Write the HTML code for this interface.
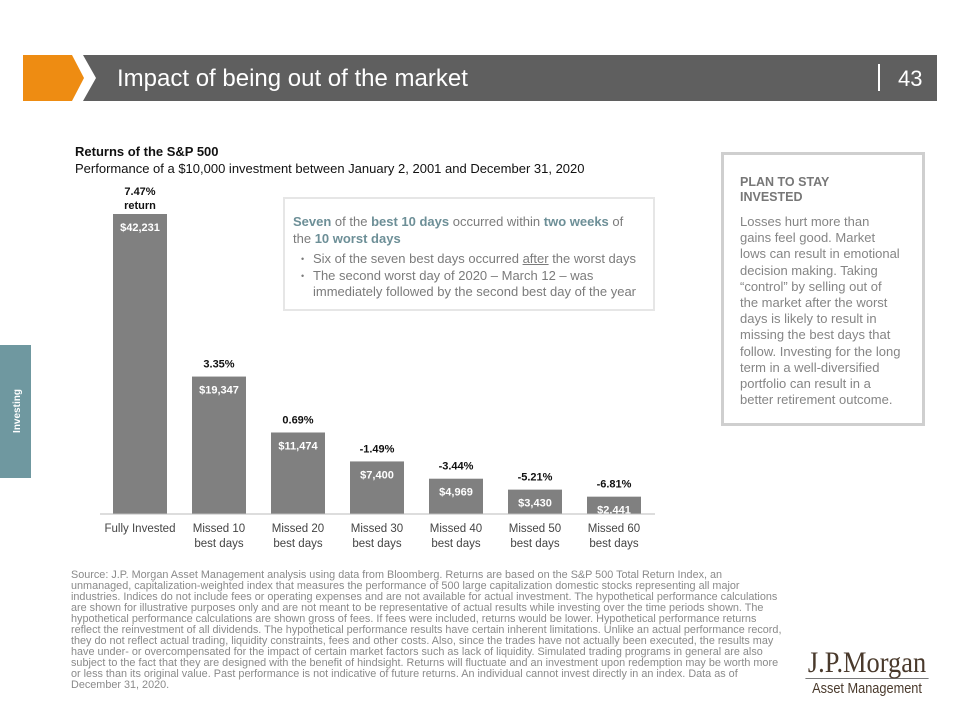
<!DOCTYPE html>
<html><head><meta charset="utf-8">
<style>
body{margin:0;width:957px;height:715px;background:#fff;font-family:"Liberation Sans",sans-serif;position:relative;overflow:hidden}
.abs{position:absolute}
.foot{left:71px;top:570px;width:860px;font-size:11px;line-height:10.95px;color:#8a8a8a;white-space:nowrap;transform:scaleX(0.985);transform-origin:0 0}
.box1{left:283px;top:197px;width:372px;height:114px;border:2px solid #e6e6e6;box-sizing:border-box;padding:14px 0 0 8px;font-size:13px;color:#7b7b7b;line-height:17px}
.box1 b{color:#6d8f97}
.box1 ul{margin:4px 0 0 0;padding:0 0 0 20px;list-style:none}
.box1 li{position:relative;line-height:16.5px}
.box1 li:before{content:"•";position:absolute;left:-12px;font-size:9px}
.box2{left:721px;top:152px;width:204px;height:274px;border:3px solid #cfcfcf;box-sizing:border-box;padding:20px 0 0 16px;font-size:13px;color:#858585;line-height:16.2px;white-space:nowrap}
</style></head><body>
<svg class="abs" style="left:0;top:0" width="957" height="715">
<polygon points="23,55 72,55 84,78 72,101 23,101" fill="#ee8c12"/>
<polygon points="83,55 937,55 937,101 83,101 96,78" fill="#5f5f5f"/>
<text x="117" y="86" font-size="24" fill="#fff" font-family="Liberation Sans">Impact of being out of the market</text>
<line x1="879" y1="64" x2="879" y2="91" stroke="#fff" stroke-width="2"/>
<text x="898" y="86" font-size="22" fill="#fff" font-family="Liberation Sans">43</text>
<rect x="0" y="345" width="31" height="133" fill="#6f98a0"/>
<text transform="translate(20,411) rotate(-90)" text-anchor="middle" font-size="10" font-weight="bold" fill="#fff" font-family="Liberation Sans">Investing</text>
</svg>
<div class="abs" style="left:75px;top:144px;font-size:13px;font-weight:bold;color:#111">Returns of the S&amp;P 500</div>
<div class="abs" style="left:75px;top:161px;font-size:13px;color:#111;white-space:nowrap">Performance of a $10,000 investment between January 2, 2001 and December 31, 2020</div>
<svg id="chart" class="abs" style="left:0;top:0" width="957" height="560"></svg>
<div class="abs box1">
<div><b>Seven</b> of the <b>best 10 days</b> occurred within <b>two weeks</b> of<br>the <b>10 worst days</b></div>
<ul><li>Six of the seven best days occurred <u>after</u> the worst days</li>
<li>The second worst day of 2020 – March 12 – was<br>immediately followed by the second best day of the year</li></ul>
</div>
<div class="abs box2">
<div style="font-weight:bold;color:#777;font-size:12.5px;line-height:15px;margin-bottom:9px">PLAN TO STAY<br>INVESTED</div>
Losses hurt more than<br>gains feel good. Market<br>lows can result in emotional<br>decision making. Taking<br>“control” by selling out of<br>the market after the worst<br>days is likely to result in<br>missing the best days that<br>follow. Investing for the long<br>term in a well-diversified<br>portfolio can result in a<br>better retirement outcome.
</div>
<div class="abs foot">Source: J.P. Morgan Asset Management analysis using data from Bloomberg. Returns are based on the S&amp;P 500 Total Return Index, an<br>unmanaged, capitalization-weighted index that measures the performance of 500 large capitalization domestic stocks representing all major<br>industries. Indices do not include fees or operating expenses and are not available for actual investment. The hypothetical performance calculations<br>are shown for illustrative purposes only and are not meant to be representative of actual results while investing over the time periods shown. The<br>hypothetical performance calculations are shown gross of fees. If fees were included, returns would be lower. Hypothetical performance returns<br>reflect the reinvestment of all dividends. The hypothetical performance results have certain inherent limitations. Unlike an actual performance record,<br>they do not reflect actual trading, liquidity constraints, fees and other costs. Also, since the trades have not actually been executed, the results may<br>have under- or overcompensated for the impact of certain market factors such as lack of liquidity. Simulated trading programs in general are also<br>subject to the fact that they are designed with the benefit of hindsight. Returns will fluctuate and an investment upon redemption may be worth more<br>or less than its original value. Past performance is not indicative of future returns. An individual cannot invest directly in an index. Data as of<br>December 31, 2020.</div>
<div class="abs" style="left:797px;top:648px;width:140px;text-align:center">
<div style="font-family:'Liberation Serif',serif;font-size:30px;color:#4a3a2c;line-height:30px;border-bottom:1px solid #777;transform:scaleX(0.88)">J.P.Morgan</div>
<div style="font-size:15px;color:#4a3a2c;line-height:20px;transform:scaleX(0.85)">Asset Management</div>
</div>
<script>
const categories=["Fully Invested","Missed 10|best days","Missed 20|best days","Missed 30|best days","Missed 40|best days","Missed 50|best days","Missed 60|best days"];
const values=[42231,19347,11474,7400,4969,3430,2441];
const returns=["7.47%","3.35%","0.69%","-1.49%","-3.44%","-5.21%","-6.81%"];
const valueLabels=["$42,231","$19,347","$11,474","$7,400","$4,969","$3,430","$2,441"];
const svg=document.getElementById('chart');
const NS="http://www.w3.org/2000/svg";
const base=514,scale=300/42231,x0=140,step=79,bw=54;
const xPos=i=>x0+i*step;
const yPos=v=>base-v*scale;
function mk(t,a,txt){const e=document.createElementNS(NS,t);for(const k in a)e.setAttribute(k,a[k]);if(txt!==undefined)e.textContent=txt;svg.appendChild(e);return e;}
values.forEach((v,i)=>{
 const cx=xPos(i),y=yPos(v);
 const r=mk('rect',{x:cx-bw/2,y:y,width:bw,height:base-y,fill:'#808080'});
 
 
 const vl=mk('text',{x:cx,y:y+17,'text-anchor':'middle','font-size':11,'font-weight':'bold',fill:'#fff'},valueLabels[i]);
 
 
 const rl=mk('text',{x:cx,y:i===0?y-19:y-9,'text-anchor':'middle','font-size':11,'font-weight':'bold',fill:'#111'},returns[i]);
 
 
 if(i===0){const r2=mk('text',{x:cx,y:y-5,'text-anchor':'middle','font-size':11,'font-weight':'bold',fill:'#111'},'return');
 
 }
 categories[i].split('|').forEach((s,j)=>{const c=mk('text',{x:cx,y:532+j*15,'text-anchor':'middle','font-size':11.5,fill:'#444'},s);
 
 });
});
const ax=mk('line',{x1:100,x2:655,y1:base,y2:base,stroke:'#bbb','stroke-width':1});


</script>
</body></html>
